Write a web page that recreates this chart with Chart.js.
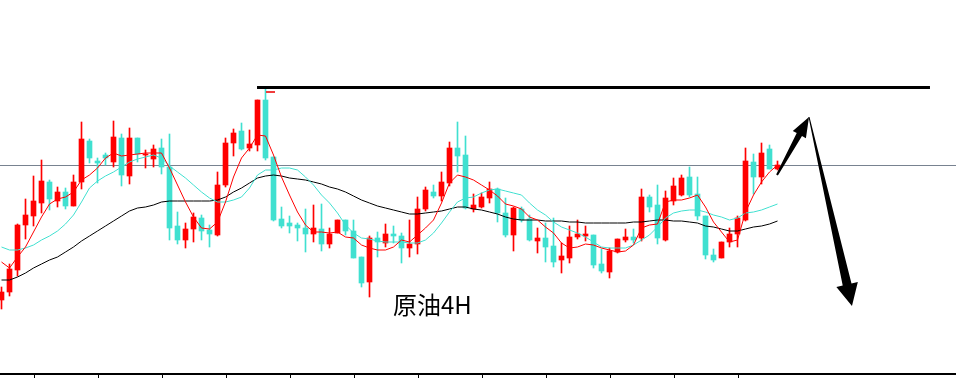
<!DOCTYPE html>
<html lang="zh">
<head>
<meta charset="UTF-8">
<title>原油4H</title>
<script src="https://cdn.jsdelivr.net/npm/chart.js"></script>
<style>
    html, body { margin: 0; padding: 0; background: #fff; }
    #wrap { width: 956px; height: 378px; }
</style>
</head>
<body>
<div id="wrap"><canvas id="chart" width="956" height="378"></canvas></div>
<script>
// 4H candles (price)
const opens  = [40.0,40.8,43.0,47.5,48.4,49.7,51.8,49.9,50.8,49.4,51.8,55.9,53.9,54.5,53.8,56.2,52.4,56.2,54.5,54.1,
                55.2,53.3,47.4,46.0,47.1,48.2,47.0,46.5,51.5,55.7,56.9,55.2,55.5,60.0,54.3,48.1,47.7,47.5,47.2,46.6,
                47.1,45.6,46.7,48.0,46.9,44.3,41.8,46.2,45.7,46.6,46.4,45.2,45.6,49.1,50.8,50.4,51.7,55.2,54.5,49.1,
                49.3,50.2,51.1,48.7,46.5,49.1,48.1,45.9,46.2,45.4,44.0,44.2,46.3,46.4,46.5,43.6,42.8,44.8,46.0,46.3,
                46.2,50.3,49.5,46.0,49.9,50.5,52.3,50.6,48.4,44.5,44.2,45.8,46.6,48.0,53.8,52.3,55.1,53.1];
const highs  = [41.3,43.6,47.6,50.1,52.4,54.0,52.0,51.3,51.2,52.5,57.8,56.1,54.2,54.7,57.9,56.6,57.2,56.2,55.0,55.5,
                56.1,56.6,48.8,47.7,48.7,48.5,47.5,52.8,56.2,57.1,57.7,57.0,60.0,61.2,54.3,49.3,48.4,47.7,49.1,49.5,
                49.6,47.2,48.0,48.0,48.0,44.3,46.4,46.8,47.6,47.4,46.7,48.0,50.3,51.3,51.5,52.8,55.8,57.8,56.4,50.6,
                50.7,51.8,51.2,50.2,49.3,49.3,48.5,47.2,47.7,48.2,45.7,47.4,48.0,47.4,46.5,45.1,45.2,46.1,47.1,47.1,
                51.1,50.5,51.5,50.9,52.2,52.5,53.3,52.3,48.4,45.1,45.8,47.2,48.4,55.2,54.6,55.7,55.5,53.9];
const lows   = [39.1,40.4,42.4,46.1,47.4,48.7,49.0,49.3,49.1,49.4,51.1,53.7,51.7,53.5,53.3,51.4,51.6,53.8,53.2,53.3,
                52.6,46.0,45.6,45.2,45.8,46.0,45.3,46.4,51.3,54.4,55.0,54.9,54.9,54.0,47.9,47.2,46.7,45.9,44.8,45.8,
                44.9,45.2,46.7,46.5,44.2,41.3,40.3,44.3,45.3,45.7,43.7,44.3,44.6,48.9,50.2,49.9,51.4,52.8,49.1,48.8,
                49.2,49.7,47.8,46.3,44.9,47.8,45.9,44.7,43.8,43.3,42.7,43.7,46.1,45.9,43.2,42.7,42.2,44.7,45.8,45.7,
                45.9,48.8,45.6,45.9,49.5,50.4,50.3,48.0,44.1,43.8,44.2,45.3,45.3,47.9,50.6,51.6,53.1,53.0];
const closes = [40.8,43.1,47.5,48.5,49.9,51.9,50.1,50.8,49.4,51.8,56.1,54.2,53.7,54.2,56.3,52.5,56.2,54.6,54.6,55.1,
                53.3,47.2,46.0,47.1,48.3,46.9,46.6,51.5,55.7,56.7,55.1,55.6,60.0,54.2,48.0,47.4,47.4,47.2,46.6,47.2,
                45.6,46.6,48.0,46.9,44.2,41.7,46.2,45.8,46.6,46.4,45.2,45.6,49.1,51.0,50.4,51.8,55.2,54.4,49.2,49.5,
                50.3,51.1,48.7,46.5,49.2,48.0,46.0,46.2,45.3,43.8,44.4,46.3,46.6,46.6,43.5,42.9,44.9,46.1,46.3,46.0,
                50.3,49.3,46.2,50.2,51.4,52.2,50.5,48.4,44.5,44.0,45.8,46.6,48.2,53.9,52.3,54.7,53.1,53.5];

// moving averages as drawn on the chart
const maFast = [43.8,43.2,44.3,45.3,46.8,48.3,49.6,50.1,50.3,50.8,52.0,52.5,53.2,54.2,54.7,54.4,54.5,54.6,54.7,54.7,
                54.7,53.2,51.5,49.8,48.3,47.2,47.1,47.8,49.8,52.3,54.2,55.2,56.5,56.4,54.5,52.3,50.5,48.8,47.5,46.8,
                46.8,46.7,46.8,46.3,46.2,45.5,45.2,45.0,45.0,45.3,46.0,45.8,46.5,47.2,48.0,49.7,51.7,52.5,52.3,52.0,
                51.5,51.0,50.4,49.6,49.4,49.1,48.3,48.0,47.3,46.7,45.7,45.2,45.3,45.6,45.5,45.2,45.0,44.8,44.9,45.5,
                47.2,47.5,47.6,49.8,50.0,50.0,50.2,50.5,49.3,47.8,46.8,45.8,46.0,48.8,50.5,51.8,52.8,53.5];
const maMid  = [45.3,45.0,45.0,45.2,45.5,46.0,46.4,46.9,47.6,48.5,49.8,51.2,51.9,52.4,52.8,53.3,53.8,54.1,54.3,54.5,
                54.2,53.4,52.8,52.2,51.5,50.8,50.2,49.8,49.8,50.0,50.3,51.2,52.5,53.0,53.0,53.2,53.2,53.0,52.3,51.5,
                50.5,49.7,48.7,47.5,46.7,46.2,46.1,45.9,45.8,45.8,45.8,45.7,45.7,46.0,46.7,47.7,48.8,49.8,50.2,50.3,
                50.7,51.0,51.1,50.9,50.7,50.5,49.7,49.0,48.5,47.8,47.3,47.0,46.7,46.3,45.8,45.3,45.2,45.2,45.2,45.5,
                46.0,46.5,47.3,48.2,48.7,48.9,49.0,49.0,48.8,48.5,48.3,48.0,48.2,48.7,48.8,49.0,49.3,49.6];
const maSlow = [42.0,42.0,42.3,42.7,43.2,43.6,44.0,44.3,44.8,45.3,45.9,46.4,46.9,47.4,47.9,48.4,48.9,49.2,49.3,49.5,
                49.8,49.9,49.9,49.9,49.9,49.9,49.9,50.0,50.3,50.8,51.2,51.7,52.2,52.4,52.5,52.4,52.2,52.1,52.0,51.8,
                51.6,51.3,51.1,50.8,50.4,50.0,49.7,49.4,49.2,49.0,48.8,48.6,48.6,48.7,48.8,48.9,49.1,49.3,49.3,49.1,
                49.0,48.8,48.6,48.3,48.1,48.0,48.0,48.0,47.9,47.9,47.9,47.8,47.8,47.7,47.7,47.7,47.7,47.7,47.7,47.8,
                47.8,47.9,48.0,48.0,47.9,47.9,47.8,47.7,47.4,47.3,47.1,46.9,46.9,47.1,47.3,47.4,47.6,47.9];

// time separators on the bottom axis (candle index)
const tickValues = [4.125,12.125,20.125,28.125,36.125,44.125,52.125,60.125,68.125,76.125,84.125,92.125];

// levels and drawn marks
const refPrice = 53.45;
const resistance = { from: 31.94, to: 116.06, price: 61.25 };
const highMark = { from: 33.06, to: 34.19, price: 60.8 };
const upArrow = { from: [96.94, 52.5], to: [100.94, 58.3] };
const downArrow = { from: [100.94, 58.3], to: [106.31, 39.4] };
const title = { text: '原油4H', at: [48.94, 39.5] };

const UP = '#ff0000';
const DOWN = '#40e0d0';

const candleColors = closes.map((c, i) => c >= opens[i] ? UP : DOWN);
const bodies = opens.map((o, i) => ({ x: i, y: [Math.min(o, closes[i]), Math.max(o, closes[i])] }));
const wicks = lows.map((l, i) => ({ x: i, y: [l, highs[i]] }));
const line = arr => arr.map((v, i) => ({ x: i, y: v }));

function taperArrow(ctx, x0, y0, x1, y1, w0, w1, headLen, headW) {
    const len = Math.hypot(x1 - x0, y1 - y0);
    const dx = (x1 - x0) / len, dy = (y1 - y0) / len;
    const nx = -dy, ny = dx;
    const bx = x1 - dx * headLen, by = y1 - dy * headLen;
    ctx.beginPath();
    ctx.moveTo(x0 + nx * w0 / 2, y0 + ny * w0 / 2);
    ctx.lineTo(bx + nx * w1 / 2, by + ny * w1 / 2);
    ctx.lineTo(bx + nx * headW / 2, by + ny * headW / 2);
    ctx.lineTo(x1, y1);
    ctx.lineTo(bx - nx * headW / 2, by - ny * headW / 2);
    ctx.lineTo(bx - nx * w1 / 2, by - ny * w1 / 2);
    ctx.lineTo(x0 - nx * w0 / 2, y0 - ny * w0 / 2);
    ctx.closePath();
    ctx.fill();
}

const marks = {
    id: 'marks',
    afterDraw(chart) {
        const { ctx, scales: { x, y } } = chart;
        const px = p => [x.getPixelForValue(p[0]), y.getPixelForValue(p[1])];
        ctx.save();
        ctx.fillStyle = '#000';
        let a = px(upArrow.from), b = px(upArrow.to);
        taperArrow(ctx, a[0], a[1], b[0], b[1], 2, 6, 20, 15);
        a = px(downArrow.from); b = px(downArrow.to);
        taperArrow(ctx, a[0], a[1], b[0], b[1], 1, 9, 22, 22);
        const t = px(title.at);
        ctx.font = '24px "Noto Sans CJK SC", "Noto Sans", sans-serif';
        ctx.textAlign = 'left';
        ctx.textBaseline = 'middle';
        ctx.fillText(title.text, t[0], t[1]);
        ctx.restore();
    }
};

new Chart(document.getElementById('chart'), {
    type: 'bar',
    data: {
        datasets: [
            { type: 'line', data: [{ x: resistance.from, y: resistance.price }, { x: resistance.to, y: resistance.price }],
              borderColor: '#000', borderWidth: 3, pointRadius: 0, order: 0 },
            { type: 'line', data: [{ x: highMark.from, y: highMark.price }, { x: highMark.to, y: highMark.price }],
              borderColor: '#f03c3c', borderWidth: 2, pointRadius: 0, order: 0 },
            { type: 'line', data: line(maFast), borderColor: UP, borderWidth: 1, pointRadius: 0, order: 1 },
            { type: 'line', data: line(maMid), borderColor: DOWN, borderWidth: 1, pointRadius: 0, order: 2 },
            { type: 'line', data: line(maSlow), borderColor: '#000', borderWidth: 1, pointRadius: 0, order: 3 },
            { data: bodies, backgroundColor: candleColors, barThickness: 5, grouped: false, order: 4 },
            { data: wicks, backgroundColor: candleColors, barThickness: 1, grouped: false, order: 5 },
            { type: 'line', data: [{ x: -1, y: refPrice }, { x: 130, y: refPrice }],
              borderColor: '#788290', borderWidth: 1, pointRadius: 0, order: 6 }
        ]
    },
    options: {
        responsive: false,
        animation: false,
        events: [],
        layout: { padding: 0 },
        plugins: { legend: { display: false }, tooltip: { enabled: false } },
        scales: {
            x: {
                type: 'linear',
                min: -0.1875,
                max: 119.3125,
                offset: false,
                afterBuildTicks: s => { s.ticks = tickValues.map(v => ({ value: v })); },
                ticks: { display: false, autoSkip: false },
                grid: { display: true, offset: false, drawOnChartArea: false, drawTicks: true, tickLength: 4, color: '#000', lineWidth: 1 },
                border: { display: true, color: '#000', width: 2 }
            },
            y: {
                display: false,
                min: 32.6,
                max: 70
            }
        }
    },
    plugins: [marks]
});
</script>
</body>
</html>
